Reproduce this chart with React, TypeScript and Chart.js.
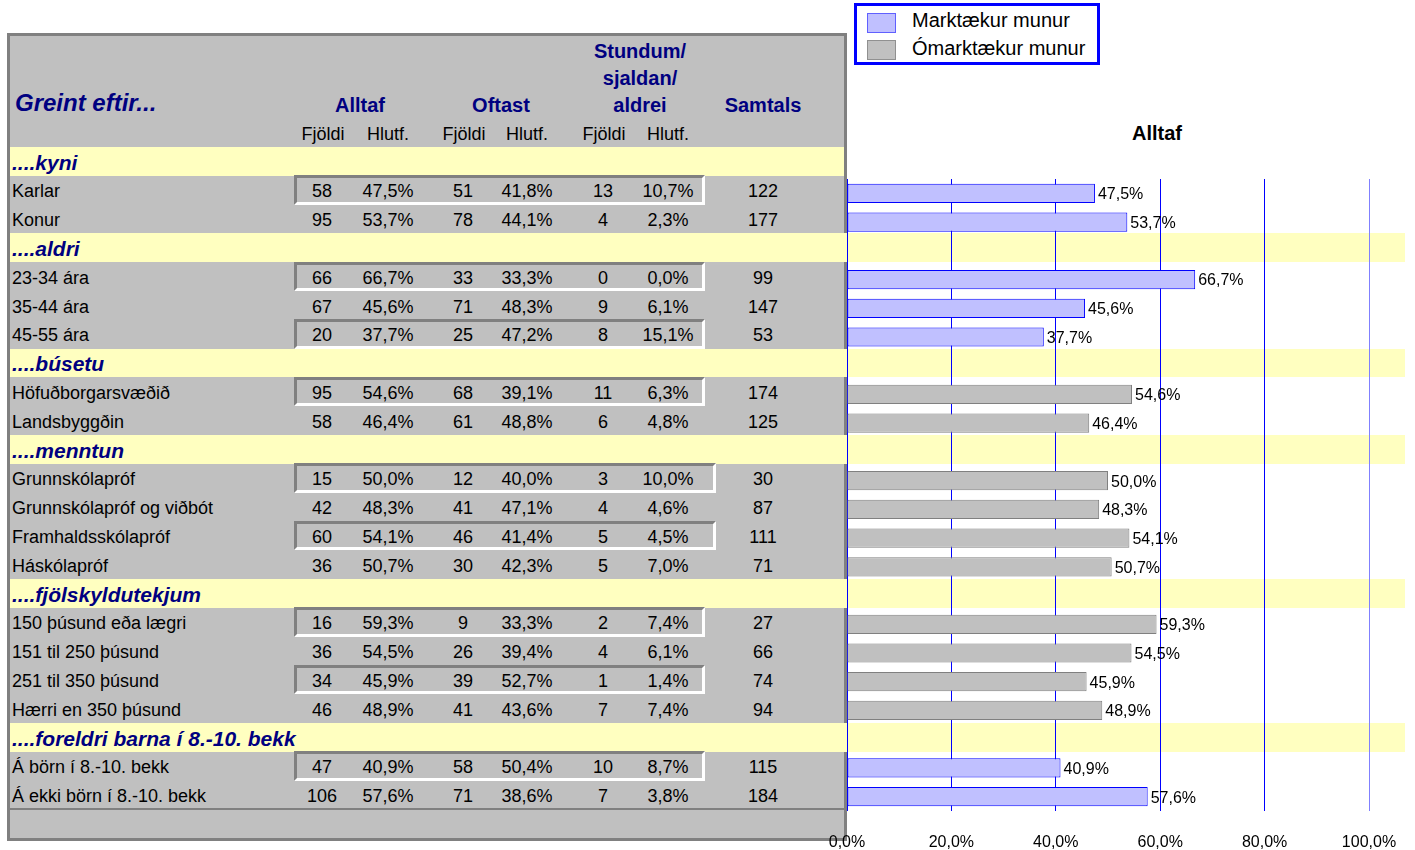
import React, { useEffect, useRef } from "react";
import { Chart, registerables } from "chart.js";

Chart.register(...registerables);

const FONT = '"Liberation Sans", Arial, Helvetica, sans-serif';

// ---------- data ----------
const rowLabels = [
  "....kyni", "Karlar", "Konur",
  "....aldri", "23-34 ára", "35-44 ára", "45-55 ára",
  "....búsetu", "Höfuðborgarsvæðið", "Landsbyggðin",
  "....menntun", "Grunnskólapróf", "Grunnskólapróf og viðbót", "Framhaldsskólapróf", "Háskólapróf",
  "....fjölskyldutekjum", "150 þúsund eða lægri", "151 til 250 þúsund", "251 til 350 þúsund", "Hærri en 350 þúsund",
  "....foreldri barna í 8.-10. bekk", "Á börn í 8.-10. bekk", "Á ekki börn í 8.-10. bekk",
];
const alltafFjoldi = [null, 58, 95, null, 66, 67, 20, null, 95, 58, null, 15, 42, 60, 36, null, 16, 36, 34, 46, null, 47, 106];
const alltafHlutf = [null, 47.5, 53.7, null, 66.7, 45.6, 37.7, null, 54.6, 46.4, null, 50.0, 48.3, 54.1, 50.7, null, 59.3, 54.5, 45.9, 48.9, null, 40.9, 57.6];
const oftastFjoldi = [null, 51, 78, null, 33, 71, 25, null, 68, 61, null, 12, 41, 46, 30, null, 9, 26, 39, 41, null, 58, 71];
const oftastHlutf = [null, 41.8, 44.1, null, 33.3, 48.3, 47.2, null, 39.1, 48.8, null, 40.0, 47.1, 41.4, 42.3, null, 33.3, 39.4, 52.7, 43.6, null, 50.4, 38.6];
const stundumFjoldi = [null, 13, 4, null, 0, 9, 8, null, 11, 6, null, 3, 4, 5, 5, null, 2, 4, 1, 7, null, 10, 7];
const stundumHlutf = [null, 10.7, 2.3, null, 0.0, 6.1, 15.1, null, 6.3, 4.8, null, 10.0, 4.6, 4.5, 7.0, null, 7.4, 6.1, 1.4, 7.4, null, 8.7, 3.8];
const samtals = [null, 122, 177, null, 99, 147, 53, null, 174, 125, null, 30, 87, 111, 71, null, 27, 66, 74, 94, null, 115, 184];
const marktaekur = [null, true, true, null, true, true, true, null, false, false, null, false, false, false, false, null, false, false, false, false, null, true, true];

const legendLabels = ["Marktækur munur", "Ómarktækur munur"];
const xTicks = [0, 20, 40, 60, 80, 100];
const chartTitle = "Alltaf";

// ---------- layout / style ----------
const ROW_TOP = 147;
const ROW_H = 28.8;
const COL_X = [322, 388, 463, 527, 603, 668, 763];
const boxedRows = [1, 4, 6, 8, 11, 13, 16, 18, 21];
const wideBoxRows = [11, 13];
const NAVY = "#000080";
const GRAY = "#C0C0C0";
const DARK = "#808080";
const YELLOW = "#FFFFC0";

const fmtPct = (v: number) => v.toFixed(1).replace(".", ",") + "%";
const isGroup = (s: string) => s.startsWith("....");

type TxtProps = {
  x: number; base: number; size: number; text: string;
  bold?: boolean; italic?: boolean; color?: string; center?: boolean;
};
function Txt({ x, base, size, text, bold, italic, color, center }: TxtProps) {
  const style: React.CSSProperties = {
    position: "absolute",
    top: base - 0.8465 * size,
    left: x,
    fontFamily: FONT,
    fontSize: size,
    lineHeight: size + "px",
    fontWeight: bold ? "bold" : "normal",
    fontStyle: italic ? "italic" : "normal",
    color: color || "#000",
    whiteSpace: "nowrap",
    transform: center ? "translateX(-50%)" : undefined,
  };
  return <div style={style}>{text}</div>;
}

const chartLabels = rowLabels.slice(1);
const sigData = alltafHlutf.slice(1).map((v, i) => (marktaekur[i + 1] === true ? v : null));
const nonSigData = alltafHlutf.slice(1).map((v, i) => (marktaekur[i + 1] === false ? v : null));

const valueLabels = {
  id: "valueLabels",
  afterDatasetsDraw(chart: any) {
    const ctx = chart.ctx;
    ctx.save();
    ctx.font = `16px ${FONT}`;
    ctx.fillStyle = "#000";
    ctx.textBaseline = "middle";
    ctx.textAlign = "left";
    chart.data.datasets.forEach((ds: any, di: number) => {
      const meta = chart.getDatasetMeta(di);
      meta.data.forEach((el: any, i: number) => {
        const v = ds.data[i];
        if (v == null) return;
        ctx.fillText(fmtPct(v), el.x + 3, el.y + 1.5);
      });
    });
    ctx.restore();
  },
};

export default function App() {
  const canvasRef = useRef<HTMLCanvasElement>(null);

  useEffect(() => {
    const chart = new Chart(canvasRef.current as HTMLCanvasElement, {
      type: "bar",
      data: {
        labels: chartLabels,
        datasets: [
          {
            label: legendLabels[0],
            data: sigData as any,
            backgroundColor: "#C0C0FF",
            borderColor: "#0000FF",
            borderWidth: 1,
            borderSkipped: false,
          },
          {
            label: legendLabels[1],
            data: nonSigData as any,
            backgroundColor: "#C0C0C0",
            borderColor: "#808080",
            borderWidth: 1,
            borderSkipped: false,
          },
        ],
      },
      options: {
        animation: false,
        responsive: false,
        devicePixelRatio: 1,
        indexAxis: "y",
        layout: { padding: { left: 27, right: 46, top: 179, bottom: 0 } },
        datasets: { bar: { grouped: false, barPercentage: 0.67, categoryPercentage: 1 } },
        plugins: {
          legend: { display: false },
          title: { display: false },
          tooltip: { enabled: false },
        },
        scales: {
          x: {
            min: 0,
            max: 100,
            position: "bottom",
            afterBuildTicks: (scale: any) => {
              scale.ticks = xTicks.map((v) => ({ value: v }));
            },
            afterFit: (scale: any) => {
              scale.height = 39;
              scale.paddingLeft = 0;
              scale.paddingRight = 0;
            },
            ticks: {
              padding: 22,
              color: "#000",
              font: { family: FONT, size: 16 },
              maxRotation: 0,
              callback: (v: any) => fmtPct(Number(v)),
            },
            grid: {
              color: (c: any) => (c.tick && c.tick.value === 100 ? "#8080FF" : "#0000FF"),
              lineWidth: 1,
              drawTicks: false,
              tickLength: 0,
            },
            border: { display: false },
          },
          y: { display: false, grid: { display: false } },
        },
      },
      plugins: [valueLabels],
    } as any);
    return () => chart.destroy();
  }, []);

  const rowTop = (i: number) => ROW_TOP + i * ROW_H;
  const rowCenter = (i: number) => ROW_TOP + (i + 0.5) * ROW_H;

  return (
    <div style={{ position: "absolute", left: 0, top: 0, width: 1415, height: 850, background: "#fff", overflow: "hidden" }}>
      {/* table frame */}
      <div style={{ position: "absolute", left: 7, top: 33, width: 840, height: 808, boxSizing: "border-box", border: `3px solid ${DARK}`, background: GRAY }} />

      {/* yellow group bands */}
      {rowLabels.map((s, i) =>
        isGroup(s) ? (
          <div key={"band" + i} style={{ position: "absolute", left: 10, top: rowTop(i), width: i === 0 ? 834 : 1395, height: ROW_H, background: YELLOW }} />
        ) : null
      )}

      {/* boxed (inset) rows */}
      {boxedRows.map((i) => (
        <div key={"box" + i} style={{
          position: "absolute", left: 294, top: rowTop(i) - 0.5,
          width: (wideBoxRows.includes(i) ? 716 : 705) - 294, height: ROW_H + 0.5, boxSizing: "border-box",
          borderTop: `3px solid ${DARK}`, borderLeft: `3px solid ${DARK}`,
          borderBottom: "3px solid #FFFFFF", borderRight: "3px solid #FFFFFF",
        }} />
      ))}

      {/* line above blank last row */}
      <div style={{ position: "absolute", left: 10, top: rowTop(rowLabels.length) - 1, width: 834, height: 2, background: DARK }} />

      {/* header */}
      <Txt x={15} base={111} size={24} text="Greint eftir..." bold italic color={NAVY} />
      <Txt x={360} base={112} size={20} text="Alltaf" bold color={NAVY} center />
      <Txt x={501} base={112} size={20} text="Oftast" bold color={NAVY} center />
      <Txt x={640} base={58} size={20} text="Stundum/" bold color={NAVY} center />
      <Txt x={640} base={85} size={20} text="sjaldan/" bold color={NAVY} center />
      <Txt x={640} base={112} size={20} text="aldrei" bold color={NAVY} center />
      <Txt x={763} base={112} size={20} text="Samtals" bold color={NAVY} center />
      {["Fjöldi", "Hlutf.", "Fjöldi", "Hlutf.", "Fjöldi", "Hlutf."].map((t, k) => (
        <Txt key={"sub" + k} x={COL_X[k] + (k % 2 === 0 ? 1 : 0)} base={140} size={18} text={t} center />
      ))}

      {/* rows */}
      {rowLabels.map((s, i) => {
        if (isGroup(s)) {
          return <Txt key={"r" + i} x={12} base={rowCenter(i) + 0.36 * 21 + 0.5} size={21} text={s} bold italic color={NAVY} />;
        }
        const base = rowCenter(i) + 0.36 * 18 + 1;
        const vals = [
          String(alltafFjoldi[i]), fmtPct(alltafHlutf[i] as number),
          String(oftastFjoldi[i]), fmtPct(oftastHlutf[i] as number),
          String(stundumFjoldi[i]), fmtPct(stundumHlutf[i] as number),
          String(samtals[i]),
        ];
        return (
          <React.Fragment key={"r" + i}>
            <Txt x={12} base={base} size={18} text={s} />
            {vals.map((v, k) => (
              <Txt key={k} x={COL_X[k]} base={base} size={18} text={v} center />
            ))}
          </React.Fragment>
        );
      })}

      {/* chart title */}
      <Txt x={1157} base={140} size={20} text={chartTitle} bold center />

      {/* chart */}
      <canvas ref={canvasRef} width={595} height={850} style={{ position: "absolute", left: 820, top: 0, width: 595, height: 850 }} />

      {/* legend */}
      <div style={{ position: "absolute", left: 854, top: 3, width: 246, height: 62, boxSizing: "border-box", border: "3px solid #0000FF", background: "#fff" }} />
      <div style={{ position: "absolute", left: 867, top: 13, width: 29, height: 20, boxSizing: "border-box", border: "1px solid #6060FF", background: "#C0C0FF" }} />
      <div style={{ position: "absolute", left: 867, top: 40, width: 29, height: 20, boxSizing: "border-box", border: "1px solid #909090", background: "#C0C0C0" }} />
      <Txt x={912} base={27} size={20} text={legendLabels[0]} />
      <Txt x={912} base={55} size={20} text={legendLabels[1]} />
    </div>
  );
}
